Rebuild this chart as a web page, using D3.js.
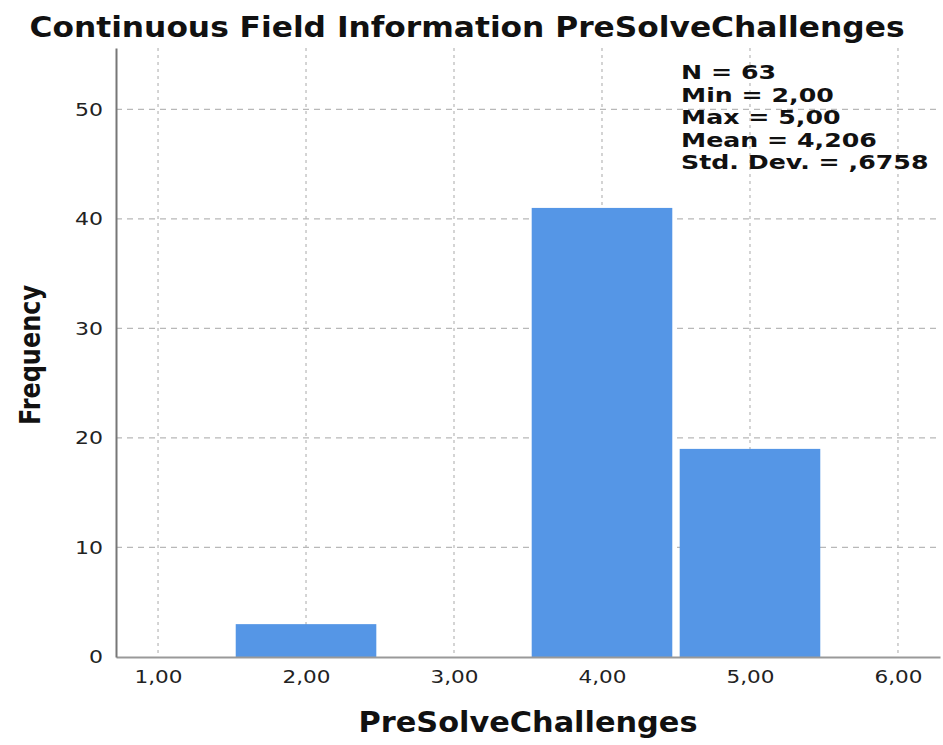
<!DOCTYPE html>
<html>
<head>
<meta charset="utf-8">
<script src="https://cdn.jsdelivr.net/npm/d3@7"></script>
<style>
  body { margin: 0; background: #fff; }
  text { font-family: "DejaVu Sans", sans-serif; }
  .cond { font-family: "DejaVu Sans Condensed", "DejaVu Sans", sans-serif; font-stretch: condensed; }
</style>
</head>
<body>
<svg width="943" height="745"></svg>
<script>
// bin centres and counts
const binValues = [2, 4, 5];
const counts = [3, 41, 19];
const xTicks = [1, 2, 3, 4, 5, 6];
const yTicks = [0, 10, 20, 30, 40, 50];
const stats = ["N = 63", "Min = 2,00", "Max = 5,00", "Mean = 4,206", "Std. Dev. = ,6758"];

const svg = d3.select("svg");
const margin = { top: 48, right: 3, bottom: 88, left: 116 };
const width = 943, height = 745;
const innerW = width - margin.left - margin.right;
const innerH = height - margin.top - margin.bottom;

const g = svg.append("g").attr("transform", `translate(${margin.left},${margin.top})`);

const x = d3.scaleLinear().domain([0.716, 6.284]).range([0, innerW]);
const y = d3.scaleLinear().domain([0, 55.6]).range([innerH, 0]);
const fmt = d => d.toFixed(2).replace(".", ",");

// grid
g.selectAll(".vgrid").data(xTicks).join("line")
  .attr("x1", d => x(d)).attr("x2", d => x(d))
  .attr("y1", 0).attr("y2", innerH)
  .attr("stroke", "#b8b8b8").attr("stroke-width", 1.2)
  .attr("stroke-dasharray", "3,4");
g.selectAll(".hgrid").data(yTicks.slice(1)).join("line")
  .attr("x1", 0).attr("x2", innerW)
  .attr("y1", d => y(d)).attr("y2", d => y(d))
  .attr("stroke", "#b8b8b8").attr("stroke-width", 1.2)
  .attr("stroke-dasharray", "6,5");

// bars
const half = 0.475;
g.selectAll("rect").data(binValues).join("rect")
  .attr("x", d => x(d - half))
  .attr("width", d => x(d + half) - x(d - half))
  .attr("y", (d, i) => y(counts[i]))
  .attr("height", (d, i) => innerH - y(counts[i]))
  .attr("fill", "#5596e6");

// axes
const xAxis = g.append("g").attr("transform", `translate(0,${innerH})`)
  .call(d3.axisBottom(x).tickValues(xTicks).tickFormat(fmt).tickSize(0).tickPadding(14));
xAxis.select(".domain").attr("stroke", "#999").attr("stroke-width", 2);
xAxis.selectAll("text").attr("font-size", 17).attr("fill", "#222")
  .attr("textLength", 48).attr("lengthAdjust", "spacingAndGlyphs");

const yAxis = g.append("g")
  .call(d3.axisLeft(y).tickValues(yTicks).tickSize(0).tickPadding(13));
yAxis.select(".domain").attr("stroke", "#777").attr("stroke-width", 2);
yAxis.selectAll("text").attr("font-size", 18).attr("fill", "#222")
  .attr("textLength", d => d === 0 ? 14 : 28).attr("lengthAdjust", "spacingAndGlyphs");

// stats box
svg.append("g").attr("transform", "translate(681,0) scale(1.33,1)")
  .selectAll("text").data(stats).join("text")
  .attr("x", 0)
  .attr("y", (d, i) => 79 + i * 22.6)
  .attr("font-size", 19).attr("font-weight", "bold").attr("fill", "#111")
  .text(d => d);

// titles
svg.append("text").attr("class", "cond")
  .attr("x", 467).attr("y", 37)
  .attr("text-anchor", "middle")
  .attr("font-size", 28).attr("font-weight", "bold").attr("fill", "#111")
  .attr("textLength", 875).attr("lengthAdjust", "spacingAndGlyphs")
  .text("Continuous Field Information PreSolveChallenges");

svg.append("text").attr("class", "cond")
  .attr("x", margin.left + innerW / 2).attr("y", 732)
  .attr("text-anchor", "middle")
  .attr("font-size", 28).attr("font-weight", "bold").attr("fill", "#111")
  .attr("textLength", 339).attr("lengthAdjust", "spacingAndGlyphs")
  .text("PreSolveChallenges");

svg.append("text").attr("class", "cond")
  .attr("transform", "translate(40,355) rotate(-90)")
  .attr("text-anchor", "middle")
  .attr("font-size", 28).attr("font-weight", "bold").attr("fill", "#111")
  .attr("textLength", 140).attr("lengthAdjust", "spacingAndGlyphs")
  .text("Frequency");
</script>
</body>
</html>
